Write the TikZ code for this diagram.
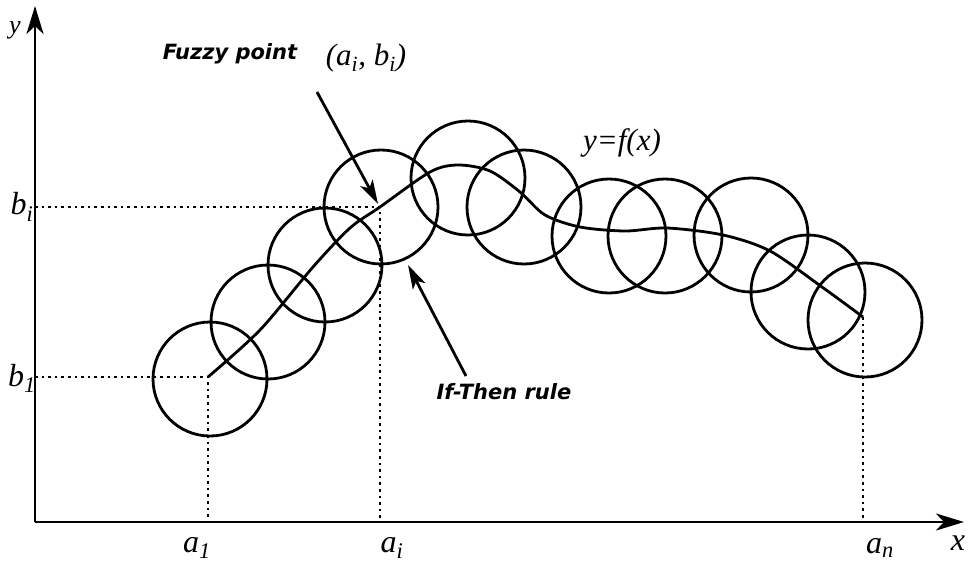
\documentclass[tikz,border=0pt]{standalone}
\usepackage{fontspec}
\setmainfont{Liberation Serif}
\newfontfamily\sansbi{DejaVu Sans}
\usetikzlibrary{arrows.meta}
\begin{document}
\begin{tikzpicture}[x=1pt,y=-1pt,
  fz/.style={circle,draw,line width=2.8pt,inner sep=0pt,minimum size=114pt},
  axisline/.style={line width=2.8pt,-{Stealth[length=28pt,width=17pt,inset=8pt]}},
  guide/.style={line width=2.6pt,dash pattern=on 2.6pt off 4pt},
  pointer/.style={line width=2.8pt,-{Stealth[length=24pt,width=14pt,inset=6pt]}},
  lab/.style={inner sep=0pt,font=\fontsize{32}{34}\selectfont\itshape},
  mlab/.style={inner sep=0pt,font=\fontsize{31}{33}\selectfont\itshape},
  tlab/.style={inner sep=0pt,font=\fontsize{21}{24}\selectfont\sansbi\bfseries\itshape}]
\useasboundingbox (0,0) rectangle (971,565);
% axes
\coordinate (O) at (35,522);
\coordinate (Ytip) at (35,6);
\coordinate (Xtip) at (964,522);
\draw[axisline] (O) -- (Ytip);
\draw[axisline] (O) -- (Xtip);
% circles
\node[fz] (c1) at (210,379) {};
\node[fz] (c2) at (268,322) {};
\node[fz] (c3) at (325,265) {};
\node[fz] (c4) at (381,207) {};
\node[fz] (c5) at (468,178) {};
\node[fz] (c6) at (524,207) {};
\node[fz] (c7) at (609,236) {};
\node[fz] (c8) at (665,236) {};
\node[fz] (c9) at (751,235) {};
\node[fz] (c10) at (808,292) {};
\node[fz] (c11) at (865,320) {};
% key points
\coordinate (P1) at (208,377);
\coordinate (Pi) at (380,207);
\coordinate (Pn) at (863,317);
\coordinate (Yb1) at (35,377);
\coordinate (Ybi) at (35,207);
\coordinate (Xa1) at (208,522);
\coordinate (Xai) at (380,522);
\coordinate (Xan) at (863,522);
% guides
\draw[guide] (Yb1) -- (P1) -- (Xa1);
\draw[guide] (Ybi) -- (Pi) -- (Xai);
\draw[guide] (Pn) -- (Xan);
% curve
\draw[line width=2.8pt,line join=round] plot[smooth,tension=0.5] coordinates {
 (208,377) (260,330) (313,267) (350,228) (380,207) (430,172) (458,165)
 (490,171) (520,192) (545,215) (580,227) (625,231) (667,228) (723,235) (770,251)
 (822,287) (863,317)};
% labels
\node[lab] (ly) at (15,30) {\fontsize{26}{28}\selectfont y};
\node[lab] (lbi) at (22,207) {b\textsubscript{i}};
\node[lab] (lb1) at (22,378) {b\textsubscript{1}};
\node[lab] (la1) at (197,548) {a\textsubscript{1}};
\node[lab] (lai) at (392,548) {a\textsubscript{i}};
\node[lab] (lan) at (880,548) {a\textsubscript{n}};
\node[lab] (lx) at (958,543) {x};
\node[tlab] (fuzzy) at (230,54) {Fuzzy point};
\node[mlab] (pair) at (366,58) {(a\textsubscript{i}, b\textsubscript{i})};
\node[mlab] (fx) at (622,143) {y=f(x)};
\node[tlab] (rule) at (504,392) {If-Then rule};
% pointers
\coordinate (fstart) at (317,92);
\coordinate (ftip) at (378,204);
\coordinate (rstart) at (466,376);
\coordinate (rtip) at (408,265);
\draw[pointer] (fstart) -- (ftip);
\draw[pointer] (rstart) -- (rtip);
\end{tikzpicture}
\end{document}
